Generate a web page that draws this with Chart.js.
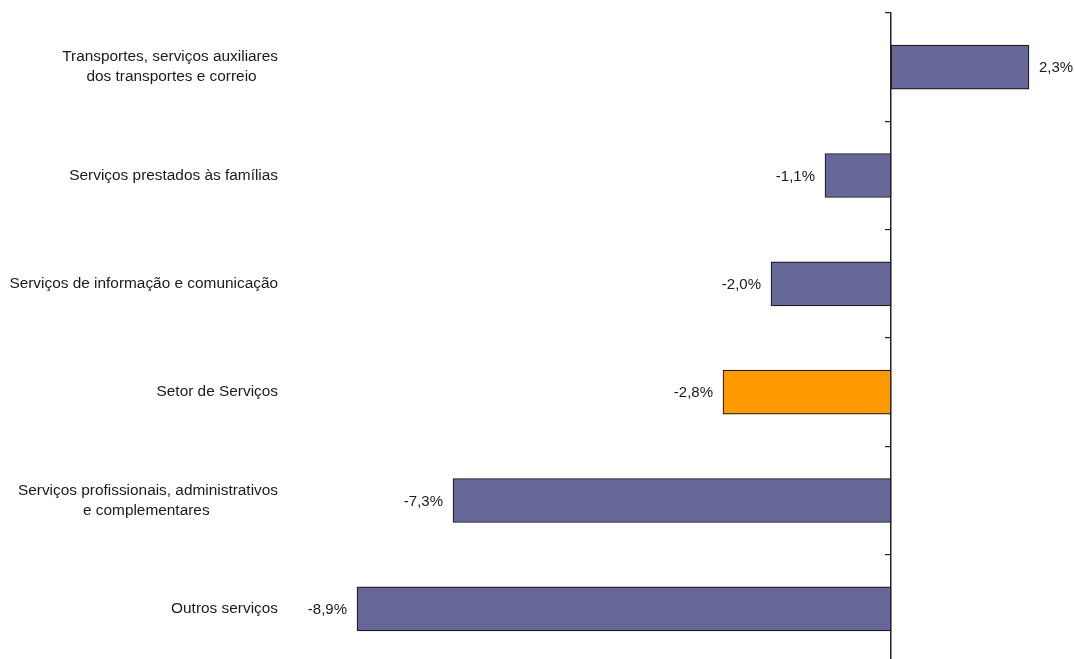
<!DOCTYPE html>
<html>
<head>
<meta charset="utf-8">
<script src="https://cdn.jsdelivr.net/npm/chart.js@4/dist/chart.umd.min.js"></script>
<style>
html,body{margin:0;padding:0;background:#fff;overflow:hidden;}
canvas{display:block;}
</style>
</head>
<body>
<canvas id="c" width="1075" height="663"></canvas>
<script>
const categories = [
  ["Transportes, serviços auxiliares", "dos transportes e correio"],
  ["Serviços prestados às famílias"],
  ["Serviços de informação e comunicação"],
  ["Setor de Serviços"],
  ["Serviços profissionais, administrativos", "e complementares"],
  ["Outros serviços"]
];
const values = [2.3, -1.1, -2.0, -2.8, -7.3, -8.9];
const highlightCategory = "Setor de Serviços";

const FONT = "'Liberation Sans', Arial, sans-serif";
const LABEL_SIZE = 15.4;
const measureCtx = document.createElement('canvas').getContext('2d');
measureCtx.font = LABEL_SIZE + "px " + FONT;
function centerLines(lines) {
  if (lines.length < 2) return lines[0];
  const widths = lines.map(l => measureCtx.measureText(l).width);
  const maxW = Math.max(...widths);
  const sp = measureCtx.measureText(' ').width;
  return lines.map((l, i) => l + ' '.repeat(Math.round((maxW - widths[i]) / 2 / sp)));
}

const dataLabels = {
  id: 'dataLabels',
  afterDatasetsDraw(chart) {
    const ctx = chart.ctx;
    const meta = chart.getDatasetMeta(0);
    ctx.save();
    ctx.font = "15px " + FONT;
    ctx.fillStyle = '#1a1a1a';
    ctx.textBaseline = 'middle';
    meta.data.forEach((bar, i) => {
      const v = values[i];
      const txt = v.toFixed(1).replace('.', ',') + '%';
      if (v >= 0) { ctx.textAlign = 'left'; ctx.fillText(txt, bar.x + 10, bar.y + 1); }
      else { ctx.textAlign = 'right'; ctx.fillText(txt, bar.x - 10, bar.y + 1); }
    });
    ctx.restore();
  }
};

new Chart(document.getElementById('c'), {
  type: 'bar',
  data: {
    labels: categories,
    datasets: [{
      data: values,
      backgroundColor: ctx => (categories[ctx.dataIndex].join(' ') === highlightCategory ? '#FF9900' : '#666699'),
      borderColor: '#1a1a1a',
      borderWidth: 1.2,
      borderSkipped: false,
      barThickness: 44
    }]
  },
  options: {
    indexAxis: 'y',
    responsive: false,
    animation: false,
    layout: { padding: { top: 13, right: 4, bottom: 0, left: 0 } },
    plugins: { legend: { display: false }, tooltip: { enabled: false } },
    scales: {
      x: {
        type: 'linear', min: -10, max: 3, display: false
      },
      y: {
        type: 'category',
        position: 'left',
        grid: { display: false, drawTicks: false },
        border: { display: false },
        afterFit: s => { s.width = 291; s.paddingTop = 0; s.paddingBottom = 0; },
        ticks: {
          padding: 13,
          color: '#1a1a1a',
          font: { family: FONT, size: LABEL_SIZE, lineHeight: 1.3 },
          callback: function(v, i) { return centerLines(categories[i]); }
        }
      },
      y2: {
        type: 'category',
        position: { x: 0 },
        offset: true,
        grid: { offset: true, drawOnChartArea: false, drawTicks: true, tickLength: 5, color: '#222', lineWidth: 1.2 },
        border: { display: true, color: '#222', width: 1.5 },
        ticks: { display: false },
        afterFit: s => { s.paddingTop = 0; s.paddingBottom = 0; }
      }
    }
  },
  plugins: [dataLabels]
});
</script>
</body>
</html>
